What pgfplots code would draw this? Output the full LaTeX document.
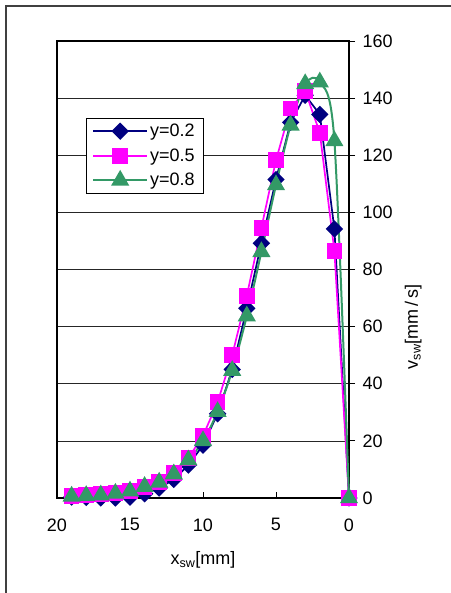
\documentclass[border=0pt]{standalone}
\usepackage{fontspec}
\setmainfont{Liberation Sans}
\usepackage{pgfplots}
\pgfplotsset{compat=1.18}
\definecolor{cnavy}{HTML}{000080}
\definecolor{cmag}{HTML}{FF00FF}
\definecolor{cgreen}{HTML}{339966}
\begin{document}
\begin{tikzpicture}[x=1pt,y=1pt]
\useasboundingbox (0,0) rectangle (450,593);
\draw[line width=1.6pt, black!75] (6,-2) -- (6,587) -- (452,587);
\begin{axis}[
  at={(57pt,95pt)}, anchor=south west,
  scale only axis, width=292pt, height=457pt,
  x dir=reverse,
  xmin=0, xmax=20, ymin=0, ymax=160,
  xtick={0,5,10,15,20}, ytick={0,20,...,160},
  xtick pos=bottom, ytick pos=right,
  xtick align=inside, ytick align=outside,
  major tick length=6pt,
  tick style={black, line width=0.8pt},
  axis line style={black, line width=1.5pt},
  ymajorgrids, grid style={black!85, line width=0.7pt},
  /pgf/number format/assume math mode=true,
  ticklabel style={font=\fontsize{18}{21}\selectfont},
  xticklabel style={yshift=-17pt},
  yticklabel style={anchor=west, xshift=4pt},
  label style={font=\fontsize{18}{21}\selectfont},
  xlabel={x\textsubscript{sw}[mm]},
  ylabel={v\textsubscript{sw}[mm\,/\,s]},
  xlabel style={at={(axis description cs:0.5,-0.1466)}, anchor=base},
  ylabel style={at={(axis description cs:1.236,0.375)}, anchor=base, rotate=0},
  clip=false,
  legend style={at={(axis description cs:0.0993,0.8315)}, anchor=north west,
    draw=black, font=\fontsize{18}{21}\selectfont,
    row sep=6.5pt, inner xsep=6pt, inner ysep=4pt},
  legend cell align=left,
  legend image code/.code={\draw[mark repeat=2,mark phase=2] plot coordinates {(0pt,0pt) (27pt,0pt) (54pt,0pt)};},
]
\addplot[cnavy, line width=1.7pt, mark=square*, mark size=5.3pt, mark options={solid, fill=cnavy, rotate=45}] coordinates {
(19,0.3) (18,0.2) (17,0) (16,0) (15,0.3) (14,1.5) (13,3.5) (12,6.5) (11,11.5) (10,18.5) (9,29.5)
(8,45) (7,66.4) (6,89.2) (5,111.5) (4,131.5) (3,141) (2,134.3) (1,94.2) (0,0)};
\addlegendentry{y=0.2}
\addplot[cmag, line width=1.7pt, mark=square*, mark size=7pt, mark options={solid, fill=cmag}] coordinates {
(19,0.8) (18,1) (17,1.3) (16,1.8) (15,2.5) (14,3.9) (13,5.7) (12,8.7) (11,14) (10,21.8) (9,33.5)
(8,50) (7,70.8) (6,94.6) (5,118.3) (4,136.4) (3,142.5) (2,127.9) (1,86.5) (0,0)};
\addlegendentry{y=0.5}
\addplot[cgreen, line width=2pt, smooth, mark=triangle*, mark size=8.5pt, mark options={solid, fill=cgreen}] coordinates {
(19,0.6) (18,0.8) (17,1) (16,1.6) (15,2.4) (14,4) (13,5.5) (12,8.4) (11,13.3) (10,20) (9,30.2)
(8,44.6) (7,63.7) (6,86.2) (5,109.6) (4,130.5) (3,145) (2,145.6) (1,125) (0,0)};
\addlegendentry{y=0.8}
\end{axis}
\end{tikzpicture}
\end{document}
